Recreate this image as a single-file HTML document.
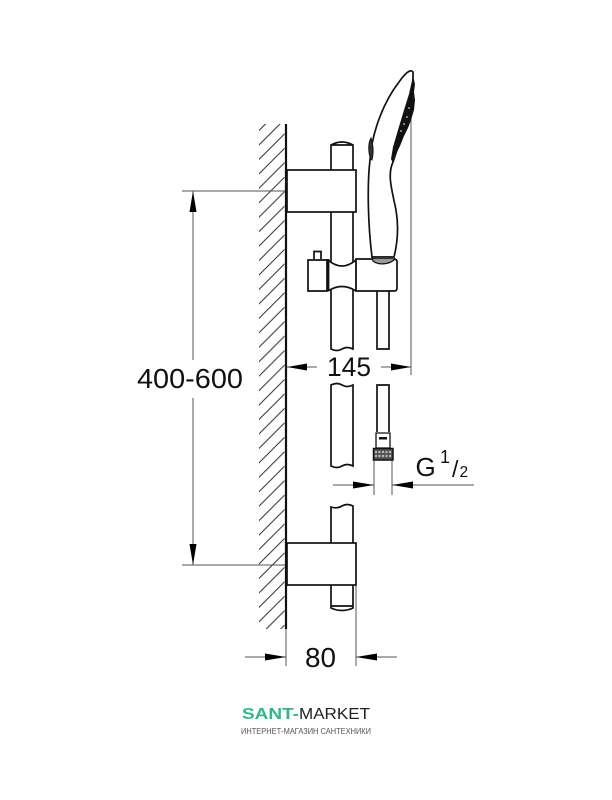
<!DOCTYPE html>
<html><head><meta charset="utf-8"><style>
html,body{margin:0;padding:0;background:#fff}
svg{display:block;filter:blur(0.35px)}
text{font-family:"Liberation Sans",sans-serif;fill:#111}
</style></head><body>
<svg width="612" height="800" viewBox="0 0 612 800" xmlns="http://www.w3.org/2000/svg">
<defs><pattern id="h" x="259" y="188.3" width="14.45" height="14.45" patternUnits="userSpaceOnUse">
<path d="M-2 2L2 -2M0 14.45L14.45 0M12.45 16.45L16.45 12.45" stroke="#333" stroke-width="1" fill="none"/></pattern></defs>
<rect x="259" y="124" width="25.5" height="505" fill="url(#h)"/>
<g fill="none" stroke="#555" stroke-width="1">
<path d="M182 191H286M182 565H286M193 191V360M193 398V565"/>
<path d="M287 367H317M381 367H411M411 72V375"/>
<path d="M333 485H374M392 485H474M374 460V495M392 460V495"/>
<path d="M245 657H286M356 657H397M286 629V666M356 585V666"/>
</g>
<g fill="#000">
<path d="M193 191L189.500 212H196.500Z"/><path d="M193 565L189.500 544H196.500Z"/>
<path d="M287 367L307 363.500V370.500Z"/><path d="M411 367L391 363.500V370.500Z"/>
<path d="M374 485L353 481.500V488.500Z"/><path d="M392 485L413 481.500V488.500Z"/>
<path d="M286 657L265 653.500V660.500Z"/><path d="M356 657L377 653.500V660.500Z"/>
</g>
<g fill="none" stroke="#111" stroke-width="1.700">
<path d="M286 124V629" stroke-width="2.200"/>
<!-- top bar -->
<path d="M331 170V145Q342 139 353 145V170M331 145H353"/>
<path d="M331 212V262M353 212V262"/>
<rect x="287" y="170" width="69" height="42"/>
<!-- clamp -->
<path d="M327 260H308V291H327Z"/>
<path d="M314 259V251.500H321V259"/>
<path d="M328 259V291" stroke-width="2.800"/>
<path d="M328 260Q342 272 356 260M328 291Q342 282 356 291"/>
<path d="M356 259H394Q397 259 397 262V288Q397 291 394 291H356Z"/>
<path d="M356 259V291" stroke-width="1.300"/>
<path d="M331 289V349Q337 352 342 349T353 349V289"/>
<path d="M377 291V349H389V291"/>
<!-- mid -->
<path d="M331 466V385Q337 382 342 385T353 385V466Q347 463 342 466T331 466Z"/>
<path d="M377 432V385H389V432"/>
<path d="M376 433H390V448H376Z" stroke-width="1.300"/>
<!-- lower bar -->
<path d="M331 543V507Q337 509 342 506T353 506V543"/>
<path d="M331 585V608Q342 613 353 608V585M331 606H353"/>
<rect x="287" y="543" width="69" height="42"/>
<!-- handle -->
<path d="M372 257C368 225 367 185 370 160C372 130 385 100 399 82C404 75 410 68 413 72C414 100 402 135 393 162C387 175 392 190 396 210C399 228 397 245 394 257Z" stroke-width="1.700" fill="#fff"/>
<path d="M372 257H394V260C388 265 378 265 373 261Z" stroke-width="1.200" fill="#999"/>
<path d="M373 258H393" stroke="#333" stroke-width="2"/>
<path d="M371 138C367 145 369 158 372 160C374 150 373 145 371 138Z" fill="#333" stroke-width="1"/>
</g>
<path d="M413 76L415 84L414 92L415 100L414 110L411 120L408 128L404 136L400 146L396 154L393 163L391 159L393 147L398 130L404 110L409 94Z" fill="#111"/>
<g fill="#fff"><circle cx="409" cy="108" r=".8"/><circle cx="407" cy="117" r=".8"/><circle cx="404" cy="124" r=".8"/><circle cx="401" cy="131" r=".8"/></g>
<rect x="373.500" y="448.500" width="19.500" height="11.500" fill="#555" stroke="#111" stroke-width="1.500"/>
<path d="M375 452H391M375 456H391" stroke="#ddd" stroke-width="1.500" stroke-dasharray="2 1.500"/>
<rect x="379" y="437" width="8" height="2.500" fill="#111"/>
<text x="137" y="388" font-size="28" textLength="106" lengthAdjust="spacingAndGlyphs">400-600</text>
<text x="327" y="376" font-size="26.500" textLength="44" lengthAdjust="spacingAndGlyphs">145</text>
<text x="305" y="667" font-size="28" textLength="31" lengthAdjust="spacingAndGlyphs">80</text>
<text x="415.500" y="476" font-size="26">G</text>
<text x="440" y="463" font-size="18">1</text>
<text x="452" y="477" font-size="23">/</text>
<text x="459.500" y="477" font-size="15.500">2</text>
<text x="242" y="719" font-size="16" font-weight="bold" style="fill:#2fb78e" textLength="57" lengthAdjust="spacingAndGlyphs">SANT-</text>
<text x="299" y="719" font-size="16" style="fill:#222" textLength="71" lengthAdjust="spacingAndGlyphs">MARKET</text>
<text x="241" y="734" font-size="8.500" style="fill:#555" textLength="130" lengthAdjust="spacingAndGlyphs">ИНТЕРНЕТ-МАГАЗИН САНТЕХНИКИ</text>
</svg>
</body></html>
